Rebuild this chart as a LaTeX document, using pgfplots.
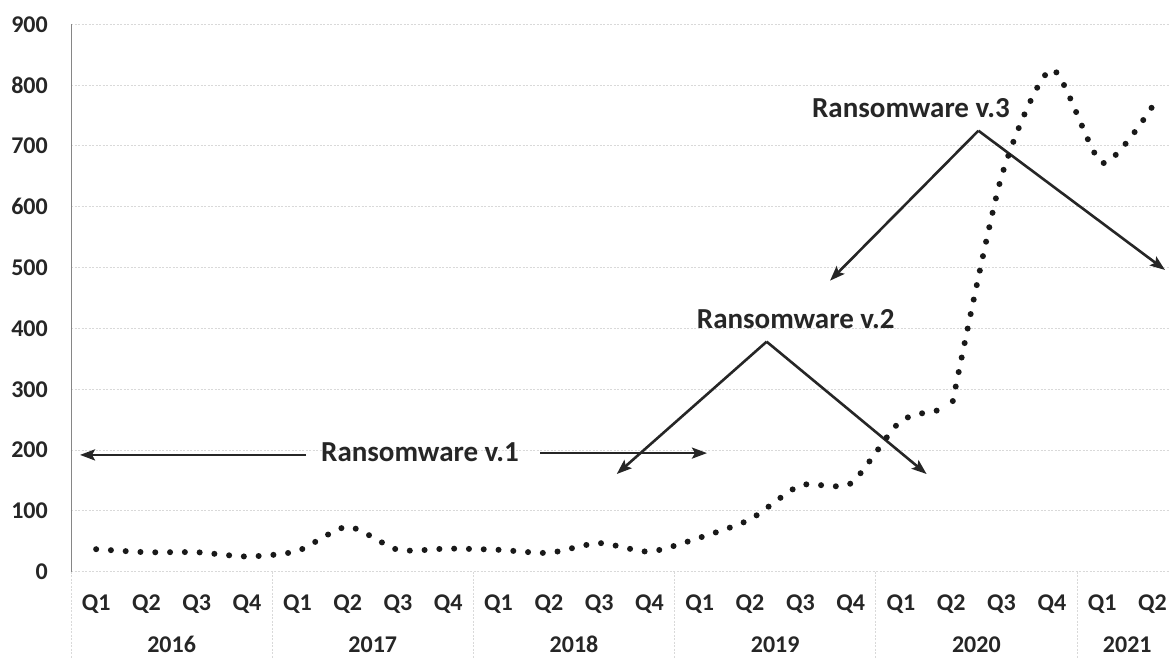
\documentclass[border=0pt]{standalone}
\usepackage{fontspec}
\setmainfont{Carlito}
\usepackage{pgfplots}
\pgfplotsset{compat=1.18}
\usetikzlibrary{arrows.meta}
\definecolor{txt}{HTML}{262626}
\definecolor{gridc}{HTML}{D9D9D9}
\definecolor{yax}{HTML}{868686}
\begin{document}
\begin{tikzpicture}
\begin{axis}[
  at={(71bp,87.3bp)}, anchor=south west,
  scale only axis, width=1106.6bp, height=547.4bp,
  xmin=-0.5, xmax=21.5, ymin=0, ymax=900,
  ytick={0,100,...,900},
  xtick={0,...,21},
  xticklabels={Q1,Q2,Q3,Q4,Q1,Q2,Q3,Q4,Q1,Q2,Q3,Q4,Q1,Q2,Q3,Q4,Q1,Q2,Q3,Q4,Q1,Q2},
  ymajorgrids,
  major grid style={draw=gridc, line width=1bp, dash pattern=on 2bp off 1.5bp},
  axis lines*=left,
  x axis line style={draw=none},
  y axis line style={draw=yax, line width=1bp},
  major tick length=0pt,
  clip=false,
  tick label style={font=\fontsize{24bp}{28bp}\selectfont\bfseries, text=txt},
  /pgf/number format/assume math mode=true,
  yticklabel style={anchor=east, inner sep=0pt, xshift=-23bp},
  xticklabel style={anchor=base, inner sep=0pt, yshift=-39bp},
]
% year separators
\foreach \s in {-0.5,3.5,7.5,11.5,15.5,19.5}{
  \edef\tmp{\noexpand\draw[draw=gridc, line width=1bp, dash pattern=on 2bp off 1.5bp] (axis cs:\s,0) -- ++(0pt,-87.3bp);}
  \tmp
}
% year labels
\foreach \x/\yr in {1.5/2016,5.5/2017,9.5/2018,13.5/2019,17.5/2020,20.5/2021}{
  \edef\tmp{\noexpand\node[anchor=base, inner sep=0pt, yshift=-81bp, text=txt, font=\noexpand\fontsize{24bp}{28bp}\noexpand\selectfont\noexpand\bfseries] at (axis cs:\x,0) {\yr};}
  \tmp
}
% annotations
\tikzset{ann/.style={draw=txt, line width=2.6bp, -{Stealth[length=15bp,width=11bp,inset=3bp]}}}
\draw[ann] (axis cs:4.172,192) -- (axis cs:-0.321,192);
\draw[ann] (axis cs:8.824,195) -- (axis cs:12.144,195);
\node[anchor=base west, inner sep=0pt, text=txt, font=\fontsize{29bp}{33bp}\selectfont\bfseries] at (axis cs:4.47,180.9) {Ransomware v.1};
\draw[ann] (axis cs:13.33,378.2) -- (axis cs:10.35,160.6);
\draw[ann] (axis cs:13.33,378.2) -- (axis cs:16.51,160.6);
\node[anchor=base west, inner sep=0pt, text=txt, font=\fontsize{29bp}{33bp}\selectfont\bfseries] at (axis cs:11.94,400.2) {Ransomware v.2};
\draw[ann] (axis cs:17.54,725.1) -- (axis cs:14.59,478.5);
\draw[ann] (axis cs:17.54,725.1) -- (axis cs:21.25,496.1);
\node[anchor=base west, inner sep=0pt, text=txt, font=\fontsize{29bp}{33bp}\selectfont\bfseries] at (axis cs:14.23,747.1) {Ransomware v.3};
% data
\addplot[smooth, tension=0.4, no markers, color=black!90, line width=6bp, line cap=round, dash pattern=on 0bp off 14.8bp] coordinates {
(0,37) (1,32) (2,32) (3,25) (4,34) (5,74) (6,36) (7,38) (8,36) (9,31) (10,47)
(11,33) (12,56) (13,86) (14,142) (15,145) (16,248) (17,268)
};
\addplot[smooth, tension=0.4, no markers, color=black!90, line width=6bp, line cap=round, dash pattern=on 0bp off 14.8bp, dash phase=7bp] coordinates {
(17,268) (18,650) (19,826) (20,672) (21,765)
};
\end{axis}
\pgfresetboundingbox
\path[use as bounding box] (0,0) rectangle (1169bp,659bp);
\end{tikzpicture}
\end{document}
